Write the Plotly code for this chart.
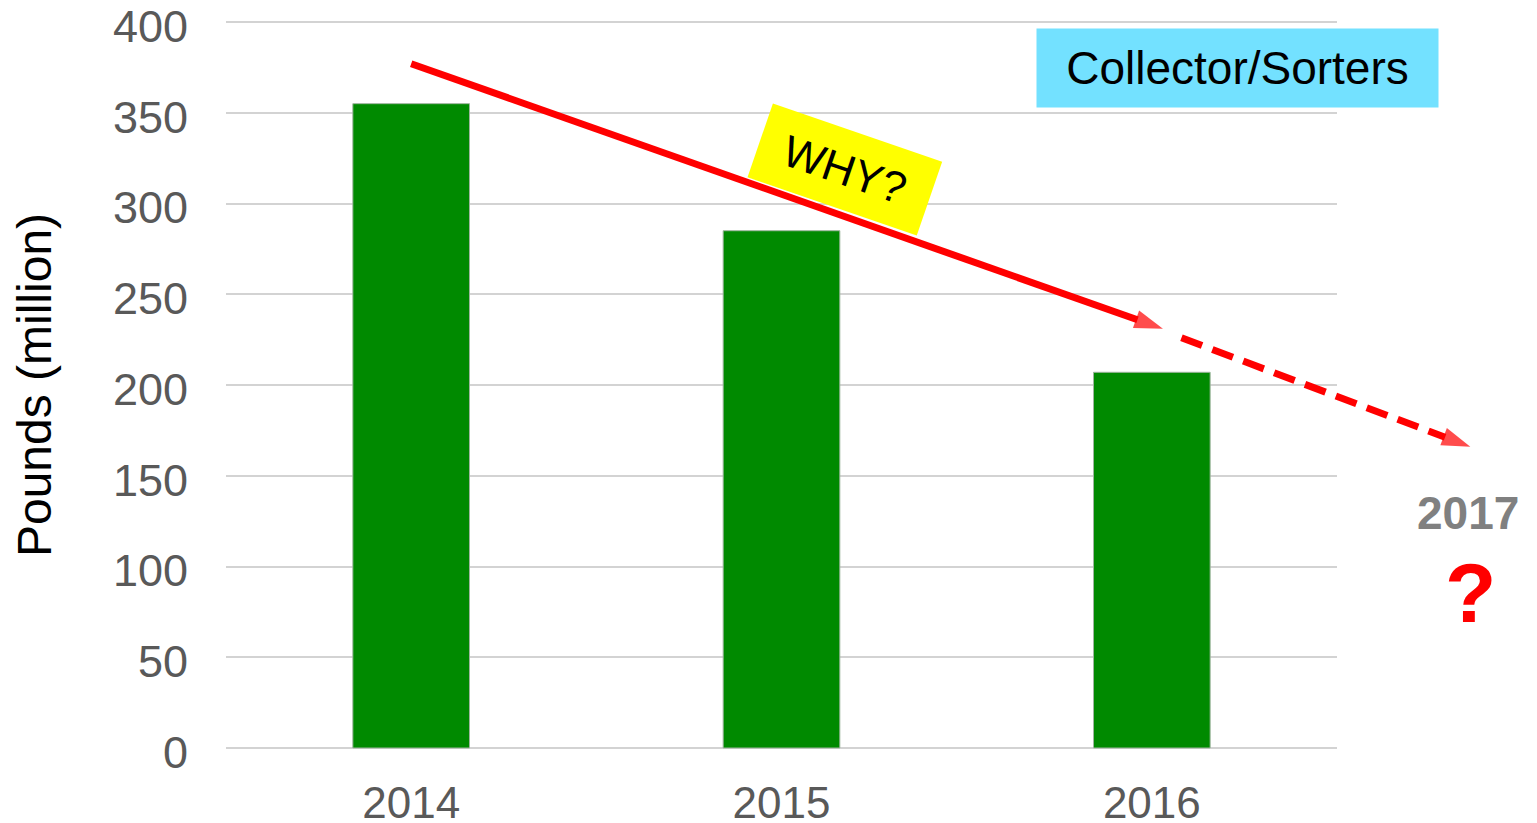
import plotly.graph_objects as go

# ---- data ----
years = ["2014", "2015", "2016"]
pounds_million = [355, 285, 207]
y_ticks = [0, 50, 100, 150, 200, 250, 300, 350, 400]

# illustrative trend arrow (category position, value)
trend_solid_x = [0.0, 2.03]
trend_solid_y = [377, 231]
trend_dash_x = [2.08, 2.86]
trend_dash_y = [226, 166]

# ---- layout geometry (page has an 8px body margin) ----
OFF = 8
W, H = 1537 - OFF, 823 - OFF
ML, MR, MT = 218, 0, 12
PH = 730
MB = H - MT - PH
PW = W - ML - MR
PLOT_W = 1111
unit = PLOT_W / 3.0
Y_RANGE = [-1.1, 401.1]


def px_x(px):
    return (px - OFF - ML) / PW


def px_y(py):
    return (MT + PH - (py - OFF)) / PH


FONT = "Liberation Sans, Arial, sans-serif"

fig = go.Figure()
fig.add_trace(go.Bar(
    x=years, y=pounds_million,
    marker=dict(color="#008a00", line=dict(color="#9fb59f", width=1)),
    xaxis="x", yaxis="y", showlegend=False,
))
fig.add_trace(go.Scatter(
    x=trend_solid_x, y=trend_solid_y, mode="lines+markers",
    line=dict(color="#ff0000", width=7),
    marker=dict(symbol="arrow", angleref="previous", size=[0, 30],
                color="#ff0000", line=dict(width=0)),
    xaxis="x2", yaxis="y2", showlegend=False, cliponaxis=False,
))
fig.add_trace(go.Scatter(
    x=trend_dash_x, y=trend_dash_y, mode="lines+markers",
    line=dict(color="#ff0000", width=7, dash="22px,11px"),
    marker=dict(symbol="arrow", angleref="previous", size=[0, 30],
                color="#ff0000", line=dict(width=0)),
    xaxis="x2", yaxis="y2", showlegend=False, cliponaxis=False,
))

fig.update_layout(
    width=W, height=H,
    margin=dict(l=ML, r=MR, t=MT, b=MB, autoexpand=False),
    paper_bgcolor="white",
    plot_bgcolor="rgba(0,0,0,0)",
    bargap=0.685,
    font=dict(family=FONT),
    xaxis=dict(
        type="category", domain=[0, PLOT_W / PW], range=[-0.5, 2.5],
        showgrid=False, zeroline=False, showline=False, ticks="",
        tickfont=dict(size=44, color="#595959", family=FONT),
        ticklabelstandoff=23, anchor="y", ticklabeloverflow="allow",
        automargin=False,
    ),
    yaxis=dict(
        domain=[0, 1], range=Y_RANGE, tickvals=y_ticks,
        showgrid=True, gridcolor="#d3d3d3", gridwidth=2,
        zeroline=False, showline=False, ticks="",
        tickfont=dict(size=45, color="#595959", family=FONT),
        ticklabelstandoff=37, ticklabelshift=4, anchor="x",
        ticklabeloverflow="allow", automargin=False,
        title=dict(text="Pounds (million)", font=dict(size=48, color="black", family=FONT),
                   standoff=46),
    ),
    xaxis2=dict(domain=[0, 1], range=[-0.5, -0.5 + PW / unit], visible=False,
                anchor="y2", fixedrange=True, automargin=False),
    yaxis2=dict(domain=[0, 1], range=Y_RANGE, visible=False, anchor="x2",
                fixedrange=True, automargin=False),
    annotations=[
        dict(text="Collector/Sorters", xref="paper", yref="paper",
             x=px_x(1237.5), y=px_y(68), xanchor="center", yanchor="middle",
             showarrow=False, bgcolor="#73e1ff", width=401, height=78,
             borderpad=0, font=dict(size=46, color="black", family=FONT)),
        dict(text="WHY?", xref="paper", yref="paper",
             x=px_x(845), y=px_y(169), xanchor="center", yanchor="middle",
             showarrow=False, bgcolor="#ffff00", width=178, height=77,
             borderpad=0, textangle=19,
             font=dict(size=44, color="black", family=FONT)),
        dict(text="<b>2017</b>", xref="paper", yref="paper",
             x=px_x(1468), y=px_y(513), xanchor="center", yanchor="middle",
             showarrow=False, font=dict(size=46, color="#808080", family=FONT)),
        dict(text="<b>?</b>", xref="paper", yref="paper",
             x=px_x(1470), y=px_y(593), xanchor="center", yanchor="middle",
             showarrow=False, font=dict(size=84, color="#ff0000", family=FONT)),
    ],
)

fig.write_html("out.html")
